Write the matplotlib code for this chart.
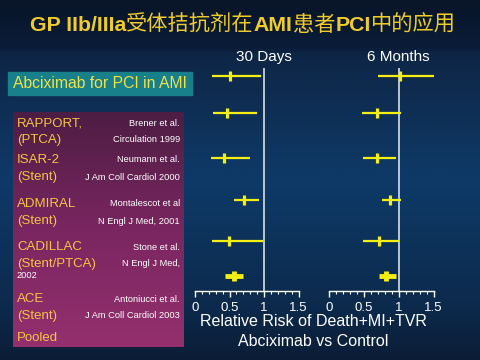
import numpy as np
import matplotlib
matplotlib.use('Agg')
import matplotlib.pyplot as plt
from matplotlib.colors import LinearSegmentedColormap
from matplotlib.ticker import MultipleLocator, FixedLocator

# --- data ---
rr_30d = [0.50, 0.47, 0.42, 0.71, 0.49, 0.56]
lo_30d = [0.25, 0.26, 0.23, 0.56, 0.24, 0.44]
hi_30d = [0.96, 0.90, 0.79, 0.93, 0.98, 0.70]

rr_6m = [1.02, 0.69, 0.69, 0.87, 0.72, 0.82]
lo_6m = [0.70, 0.47, 0.49, 0.76, 0.49, 0.72]
hi_6m = [1.50, 1.04, 0.96, 1.04, 1.01, 0.96]

studies = ['RAPPORT,', 'ISAR-2', 'ADMIRAL', 'CADILLAC', 'ACE']
designs = ['(PTCA)', '(Stent)', '(Stent)', '(Stent/PTCA)', '(Stent)']
authors = ['Brener et al.', 'Neumann et al.', 'Montalescot et al', 'Stone et al.', 'Antoniucci et al.']
journals = ['Circulation 1999', 'J Am Coll Cardiol 2000', 'N Engl J Med, 2001',
            'N Engl J Med,', 'J Am Coll Cardiol 2003']
xticks = [0, 0.5, 1, 1.5]

# layout (pixel rows of the slide, 480x360)
row_px = [76, 113, 158, 200, 241, 276]
label_px = [123, 160, 204, 247, 299]

W, H = 480, 360
fig = plt.figure(figsize=(4.8, 3.6), dpi=100)

# background axes in pixel coords
bg = fig.add_axes([0, 0, 1, 1])
bg.axis('off')
bg_cmap = LinearSegmentedColormap.from_list('bg', [
    (0.0, '#081428'), (0.13, '#0a1d38'), (0.15, '#0e2646'),
    (0.5, '#0e3a68'), (0.85, '#0c2a4c'), (1.0, '#0b1d36')])
bg.imshow(np.linspace(0, 1, 256).reshape(-1, 1), cmap=bg_cmap, aspect='auto',
          extent=[0, W, H, 0], zorder=0)

# teal box
bg.add_patch(plt.Rectangle((8, 72), 184, 23, color='#17808b', zorder=1))
bg.text(100, 84, 'Abciximab for PCI in AMI', color='#f2e04a', fontsize=11.3,
        family='Liberation Sans', ha='center', va='center', zorder=2)

# purple box
pu_cmap = LinearSegmentedColormap.from_list('pu', ['#4d1d44', '#7a2660', '#94306e'])
bg.imshow(np.linspace(0, 1, 256).reshape(-1, 1), cmap=pu_cmap, aspect='auto',
          extent=[13, 184, 347, 112], zorder=1)
bg.set_xlim(0, W)
bg.set_ylim(H, 0)

name_col = '#f5c542'
for i in range(len(studies)):
    y = label_px[i]
    bg.text(17, y, studies[i], color=name_col, fontsize=9.5, family='Liberation Sans',
            va='center', zorder=2)
    bg.text(17, y + 17, designs[i], color=name_col, fontsize=9.5, family='Liberation Sans',
            va='center', zorder=2)
    bg.text(180, y, authors[i], color='white', fontsize=6.7, family='Liberation Sans',
            va='center', ha='right', zorder=2)
    bg.text(180, y + 17, journals[i], color='white', fontsize=6.7, family='Liberation Sans',
            va='center', ha='right', zorder=2)
bg.text(17, 276, '2002', color='white', fontsize=6.7, family='Liberation Sans',
        va='center', zorder=2)
bg.text(17, 338, 'Pooled', color=name_col, fontsize=9.5, family='Liberation Sans',
        va='center', zorder=2)

# title, bold latin + regular chinese
title_parts = [('GP IIb/IIIa', 'bold'), ('受体拮抗剂在', 'normal'), ('AMI', 'bold'),
               ('患者', 'normal'), ('PCI', 'bold'), ('中的应用', 'normal')]
renderer = fig.canvas.get_renderer()
x = 30
for s, w in title_parts:
    fam = 'Liberation Sans' if w == 'bold' else 'Noto Sans CJK SC'
    t = bg.text(x, 31, s, color='#f0cc2a', fontsize=15.3, fontweight=w, family=fam,
                va='baseline', ha='left', zorder=2)
    bb = t.get_window_extent(renderer)
    x += bb.width

# forest plots
yel = '#f4ef10'

def forest(x0_px, x15_px, rr, lo, hi, header):
    ax = fig.add_axes([x0_px / W, (H - 291) / H, (x15_px - x0_px) / W, (291 - 68) / H])
    ax.set_facecolor('none')
    ax.set_xlim(0, 1.5)
    ax.set_ylim(291, 68)
    for sp in ['top', 'left', 'right']:
        ax.spines[sp].set_visible(False)
    ax.spines['bottom'].set_color('white')
    ax.spines['bottom'].set_linewidth(1)
    ax.set_yticks([])
    ax.xaxis.set_major_locator(FixedLocator(xticks))
    ax.xaxis.set_minor_locator(MultipleLocator(0.1))
    ax.set_xticklabels([f'{v:g}' for v in xticks])
    ax.tick_params(axis='x', which='major', colors='white', length=4, width=1,
                   labelsize=9.5, pad=4)
    ax.tick_params(axis='x', which='minor', colors='white', length=2, width=0.8)
    for lab in ax.get_xticklabels():
        lab.set_family('Liberation Sans')
    ax.axvline(1, color='#e8eef5', lw=1.1)
    n = len(rr)
    for i in range(n):
        pooled = i == n - 1
        ax.plot([lo[i], hi[i]], [row_px[i], row_px[i]], color=yel,
                lw=3.5 if pooled else 1.6, solid_capstyle='butt')
        ax.plot(rr[i], row_px[i], marker='|', color=yel, ms=7 if pooled else 6.5,
                mew=3.5 if pooled else 2.3)
    ax.text(1, 57, header, color='white', fontsize=11, family='Liberation Sans',
            ha='center', va='center', transform=ax.transData, clip_on=False)
    return ax

forest(195, 298.5, rr_30d, lo_30d, hi_30d, '30 Days')
forest(329, 433.5, rr_6m, lo_6m, hi_6m, '6 Months')

bg.text(313, 322, 'Relative Risk of Death+MI+TVR', color='white', fontsize=11.5,
        family='Liberation Sans', ha='center', va='center', zorder=2)
bg.text(313, 342, 'Abciximab vs Control', color='white', fontsize=11.5,
        family='Liberation Sans', ha='center', va='center', zorder=2)

fig.savefig('out.png', dpi=100)
